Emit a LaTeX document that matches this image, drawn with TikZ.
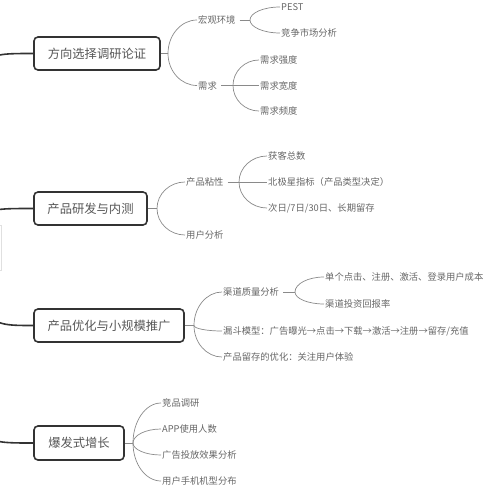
\documentclass[tikz,border=0pt]{standalone}
\usepackage{fontspec}
\setmainfont{Noto Sans CJK SC}
\usetikzlibrary{calc}
\definecolor{boxline}{HTML}{333333}
\definecolor{txt}{HTML}{666666}
\definecolor{twig}{HTML}{8A8A8A}

\begin{document}
\begin{tikzpicture}[x=1pt,y=-1pt,
    stage/.style={draw=boxline,line width=1.6pt,rounded corners=4pt,fill=white,
                  text=txt!85!black,font=\fontsize{12.3}{14}\selectfont,inner sep=0pt},
    leaf/.style={anchor=west,text=txt,font=\fontsize{9.3}{11}\selectfont,inner sep=1pt},
    trunk/.style={draw=boxline,line width=1.6pt},
    branch/.style={draw=twig,line width=0.7pt},
    twigto/.style={to path={.. controls ($(\tikztostart)!0.55!(\tikztostart |- \tikztotarget)$)
                 and ($(\tikztotarget)!0.55!(\tikztostart |- \tikztotarget)$) .. (\tikztotarget)}}]
                    \useasboundingbox (0,0) rectangle (490,490);

                    % root (off the page)
                    \draw[black!12,line width=0.6pt] (-60,225) rectangle (1.2,270);
                    \coordinate (r1) at (-20,120);
                    \coordinate (r2) at (-20,250);
                    \coordinate (r3) at (-20,200);
                    \coordinate (r4) at (-20,380);

                    % stages
                    \node[stage,minimum width=126,minimum height=33] (dir) at (97,53.5) {方向选择调研论证};
                    \node[stage,minimum width=113,minimum height=33] (dev) at (90.5,208.5) {产品研发与内测};
                    \node[stage,minimum width=150,minimum height=33] (opt) at (109,325.5) {产品优化与小规模推广};
                    \node[stage,minimum width=90,minimum height=34] (boom) at (79,443) {爆发式增长};

                    \draw[trunk] (r1) .. controls (r1 |- dir.west) .. (dir.west);
                    \draw[trunk] (r2) .. controls (r2 |- dev.west) .. (dev.west);
                    \draw[trunk] (r3) .. controls (r3 |- opt.west) .. (opt.west);
                    \draw[trunk] (r4) .. controls (r4 |- boom.west) .. (boom.west);

                    % stage 1
                    \coordinate (j1) at (168,53.5);
                    \node[leaf] (macro) at (197,20) {宏观环境};
                    \node[leaf] (need) at (197,85.5) {需求};
                    \draw[branch] (dir.east) -- (j1);
                    \draw[branch] (j1) to[twigto] (macro.west);
                    \draw[branch] (j1) to[twigto] (need.west);

                    \coordinate (j11) at (250,20);
                    \node[leaf] (pest) at (280,7) {PEST};
                    \node[leaf] (comp) at (280,33) {竞争市场分析};
                    \draw[branch] (macro.east) ++(3,0) -- (j11);
                    \draw[branch] (j11) to[twigto] (pest.west);
                    \draw[branch] (j11) to[twigto] (comp.west);

                    \coordinate (j12) at (233,85.5);
                    \node[leaf] (n1) at (259,60) {需求强度};
                    \node[leaf] (n2) at (259,85.5) {需求宽度};
                    \node[leaf] (n3) at (259,111) {需求频度};
                    \draw[branch] (need.east) ++(3,0) -- (n2.west);
                    \draw[branch] (j12) to[twigto] (n1.west);
                    \draw[branch] (j12) to[twigto] (n3.west);

                    % stage 2
                    \coordinate (j2) at (157,208.5);
                    \node[leaf] (stick) at (185,182) {产品粘性};
                    \node[leaf] (users) at (185,235) {用户分析};
                    \draw[branch] (dev.east) -- (j2);
                    \draw[branch] (j2) to[twigto] (stick.west);
                    \draw[branch] (j2) to[twigto] (users.west);

                    \coordinate (j21) at (239,182);
                    \node[leaf] (s1) at (267,156) {获客总数};
                    \node[leaf] (s2) at (267,182) {北极星指标（产品类型决定）};
                    \node[leaf] (s3) at (267,208) {次日/7日/30日、长期留存};
                    \draw[branch] (stick.east) ++(3,0) -- (s2.west);
                    \draw[branch] (j21) to[twigto] (s1.west);
                    \draw[branch] (j21) to[twigto] (s3.west);

                    % stage 3
                    \coordinate (j3) at (194,325.5);
                    \node[leaf] (chan) at (222,292) {渠道质量分析};
                    \node[leaf] (funnel) at (222,331) {漏斗模型：广告曝光→点击→下载→激活→注册→留存/充值};
                    \node[leaf] (keep) at (222,357) {产品留存的优化：关注用户体验};
                    \draw[branch] (opt.east) -- (j3);
                    \draw[branch] (j3) to[twigto] (chan.west);
                    \draw[branch] (j3) to[twigto] (funnel.west);
                    \draw[branch] (j3) to[twigto] (keep.west);

                    \coordinate (j31) at (295,292);
                    \node[leaf] (c1) at (324,277) {单个点击、注册、激活、登录用户成本};
                    \node[leaf] (c2) at (324,304) {渠道投资回报率};
                    \draw[branch] (chan.east) ++(3,0) -- (j31);
                    \draw[branch] (j31) to[twigto] (c1.west);
                    \draw[branch] (j31) to[twigto] (c2.west);

                    % stage 4
                    \coordinate (j4) at (133,443);
                    \node[leaf] (g1) at (161,403) {竞品调研};
                    \node[leaf] (g2) at (161,429) {APP使用人数};
                    \node[leaf] (g3) at (161,455) {广告投放效果分析};
                    \node[leaf] (g4) at (161,481) {用户手机机型分布};
                    \draw[branch] (boom.east) -- (j4);
                    \foreach \g in {g1,g2,g3,g4}
                        \draw[branch] (j4) to[twigto] (\g.west);
                \end{tikzpicture}
\end{document}
